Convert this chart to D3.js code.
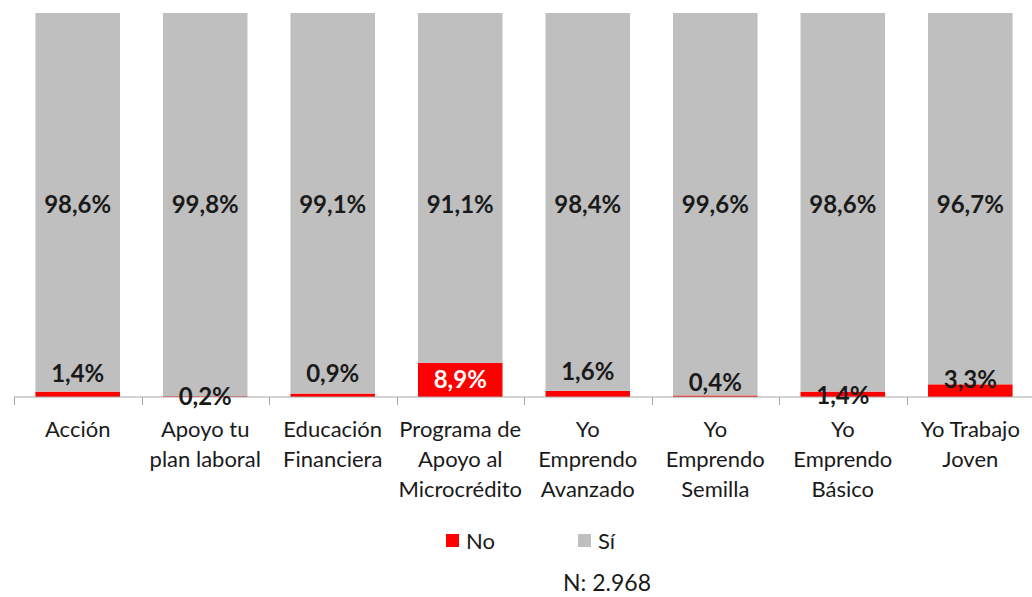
<!DOCTYPE html>
<html>
<head>
<meta charset="utf-8">
<script src="https://cdn.jsdelivr.net/npm/d3@7"></script>
<style>
	body { margin: 0; background: #fff; }
	text { font-family: Lato, "Open Sans", sans-serif; fill: #1a1a1a; }
</style>
</head>
<body>
<svg id="chart" width="1032" height="597"></svg>
<script>
'use strict';

var categories = [
	['Acción'],
	['Apoyo tu', 'plan laboral'],
	['Educación', 'Financiera'],
	['Programa de', 'Apoyo al', 'Microcrédito'],
	['Yo', 'Emprendo', 'Avanzado'],
	['Yo', 'Emprendo', 'Semilla'],
	['Yo', 'Emprendo', 'Básico'],
	['Yo Trabajo', 'Joven']
];
var noValues = [1.4, 0.2, 0.9, 8.9, 1.6, 0.4, 1.4, 3.3];
var siValues = [98.6, 99.8, 99.1, 91.1, 98.4, 99.6, 98.6, 96.7];
var seriesNames = ['No', 'Sí'];
var footnote = 'N: 2.968';

var RED = '#ff0000';
var GRAY = '#bfbfbf';
// hand-placed "No" labels in the original, pixel nudges from the segment middle
var NO_LABEL_NUDGE = [-21, 0, -22, 0, -22, -14, 1, -11];

var svg = d3.select('#chart');
var margin = {left: 14, right: -2, top: 13, bottom: 200};
var width = 1032 - margin.left - margin.right;
var height = 597 - margin.top - margin.bottom;

var g = svg.append('g')
	.attr('transform', 'translate(' + margin.left + ',' + margin.top + ')');

var x = d3.scaleBand()
	.domain(d3.range(categories.length))
	.range([0, width])
	.paddingInner(0.337)
	.paddingOuter(0.168);

var y = d3.scaleLinear()
	.domain([0, 100])
	.range([height, 0]);

var rows = categories.map(function(c, i) {
	return {i: i, No: noValues[i], 'Sí': siValues[i]};
});
var stacked = d3.stack().keys(seriesNames)(rows);
var colors = d3.scaleOrdinal().domain(seriesNames).range([RED, GRAY]);

g.selectAll('.series')
	.data(stacked)
	.enter().append('g')
	.attr('class', 'series')
	.attr('fill', function(d) { return colors(d.key); })
	.selectAll('rect')
	.data(function(d) { return d; })
	.enter().append('rect')
	.attr('x', function(d) { return x(d.data.i); })
	.attr('width', x.bandwidth())
	.attr('y', function(d) { return y(d[1]); })
	.attr('height', function(d) { return y(d[0]) - y(d[1]); });

// axis line with category separators
var step = x.step();
g.append('line')
	.attr('x1', 0).attr('x2', width)
	.attr('y1', height).attr('y2', height)
	.attr('stroke', '#a6a6a6').attr('stroke-width', 1);

g.selectAll('.sep')
	.data(d3.range(categories.length + 1))
	.enter().append('line')
	.attr('x1', function(d) { return Math.round(d * step) + 0.5; })
	.attr('x2', function(d) { return Math.round(d * step) + 0.5; })
	.attr('y1', height).attr('y2', height + 8)
	.attr('stroke', '#a6a6a6');

// Sí labels sit at the middle of the plot
g.selectAll('.si-label')
	.data(siValues)
	.enter().append('text')
	.attr('x', function(d, i) { return x(i) + x.bandwidth() / 2; })
	.attr('y', y(50))
	.attr('dy', '0.35em')
	.attr('text-anchor', 'middle')
	.style('font-size', '24px')
	.style('font-weight', 'bold')
	.text(function(d) { return d.toFixed(1).replace('.', ',') + '%'; });

g.selectAll('.no-label')
	.data(noValues)
	.enter().append('text')
	.attr('x', function(d, i) { return x(i) + x.bandwidth() / 2; })
	.attr('y', function(d, i) { return y(d / 2) + NO_LABEL_NUDGE[i]; })
	.attr('dy', '0.35em')
	.attr('text-anchor', 'middle')
	.style('font-size', '24px')
	.style('font-weight', 'bold')
	.style('fill', function(d) { return d > 5 ? '#fff' : '#1a1a1a'; })
	.text(function(d) { return d.toFixed(1).replace('.', ',') + '%'; });

// category labels
var catText = g.selectAll('.cat')
	.data(categories)
	.enter().append('text')
	.attr('text-anchor', 'middle')
	.attr('transform', function(d, i) {
		return 'translate(' + (x(i) + x.bandwidth() / 2) + ',' + (height + 40) + ')';
	})
	.style('font-size', '22px');

catText.selectAll('tspan')
	.data(function(d) { return d; })
	.enter().append('tspan')
	.attr('x', 0)
	.attr('y', function(d, j) { return j * 30; })
	.text(function(d) { return d; });

// legend
var legend = svg.append('g').attr('transform', 'translate(446,534)');
var items = legend.selectAll('.item')
	.data(seriesNames)
	.enter().append('g')
	.attr('transform', function(d, i) { return 'translate(' + (i * 132) + ',0)'; });
items.append('rect')
	.attr('width', 13).attr('height', 13)
	.attr('fill', function(d) { return colors(d); });
items.append('text')
	.attr('x', 20).attr('y', 7)
	.attr('dy', '0.35em')
	.style('font-size', '22px')
	.text(function(d) { return d; });

svg.append('text')
	.attr('x', 607).attr('y', 583)
	.attr('dy', '0.35em')
	.attr('text-anchor', 'middle')
	.style('font-size', '23px')
	.text(footnote);
</script>
</body>
</html>
